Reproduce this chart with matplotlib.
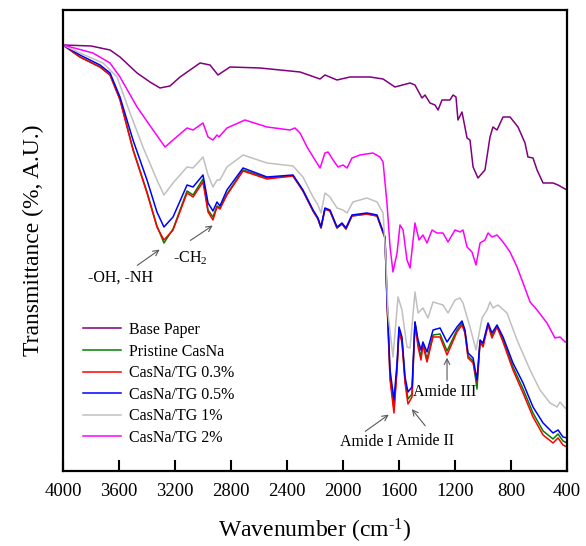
import numpy as np
import matplotlib
matplotlib.use("Agg")
import matplotlib.pyplot as plt

plt.rcParams['font.family'] = ['Liberation Serif', 'DejaVu Serif']
plt.rcParams['mathtext.fontset'] = 'custom'
plt.rcParams['mathtext.rm'] = 'Liberation Serif'
plt.rcParams['mathtext.it'] = 'Liberation Serif:italic'

# FTIR spectra, transmittance in arbitrary units (curves are offset)
wn_base = [4000, 3800, 3664, 3593, 3471, 3379, 3307, 3236, 3164, 3021, 2950, 2893,
           2807, 2593, 2307, 2164, 2129, 2043, 1950, 1807, 1714, 1629, 1521, 1486,
           1436, 1414, 1379, 1343, 1321, 1293, 1236, 1214, 1193, 1179, 1150, 1114,
           1093, 1071, 1036, 986, 950, 929, 900, 857, 807, 750, 700, 679, 643, 614,
           571, 500, 464, 414, 400]
t_base = [426, 425, 421, 414, 398, 389, 383, 385, 394, 408, 406, 396,
          404, 403, 399, 392, 396, 391, 394, 394, 392, 384, 388, 386,
          373, 376, 368, 366, 361, 371, 371, 376, 374, 351, 359, 333,
          331, 304, 293, 301, 334, 344, 341, 354, 354, 344, 328, 314, 313, 301,
          288, 288, 286, 282, 281]

# shared wavenumber grid for the caseinate-coated samples
wn_cas = [4000, 3879, 3736, 3664, 3593, 3500, 3400, 3329, 3279, 3214, 3114, 3071,
          3000, 2964, 2929, 2900, 2879, 2829, 2714, 2543, 2357, 2286, 2214, 2179,
          2157, 2129, 2093, 2043, 2007, 1979, 1936, 1829, 1757, 1700, 1686, 1664,
          1636, 1614, 1600, 1579, 1557, 1536, 1507, 1486, 1464, 1443, 1429, 1400,
          1357, 1307, 1257, 1186, 1150, 1129, 1107, 1071, 1043, 1021, 1000, 964,
          936, 900, 857, 786, 714, 643, 571, 500, 464, 429, 400]
t_pristine = [426, 414, 404, 396, 372, 322, 279, 245, 228, 242, 280, 276,
              292, 261, 254, 265, 263, 277, 301, 293, 295, 280, 260, 252,
              243, 262, 260, 243, 247, 242, 255, 257, 255, 233, 172, 95,
              62, 104, 142, 131, 91, 72, 77, 149, 127, 114, 128, 112,
              136, 137, 120, 141, 148, 139, 115, 110, 82, 130, 126, 147,
              135, 145, 131, 104, 82, 58, 40, 32, 37, 30, 28]
t_tg03 = [426, 414, 404, 396, 371, 321, 278, 244, 231, 241, 278, 274,
          289, 259, 251, 264, 262, 276, 300, 292, 295, 280, 260, 252,
          243, 262, 260, 243, 247, 242, 255, 257, 255, 233, 171, 91,
          58, 101, 139, 129, 88, 67, 74, 148, 124, 111, 126, 109,
          134, 134, 116, 139, 146, 138, 113, 108, 89, 129, 124, 146,
          133, 144, 129, 101, 78, 54, 36, 28, 33, 26, 24]
t_tg05 = [426, 416, 406, 398, 374, 331, 291, 259, 244, 254, 286, 284,
          296, 268, 260, 269, 265, 281, 303, 294, 296, 281, 261, 253,
          244, 263, 261, 244, 248, 243, 256, 258, 256, 234, 174, 101,
          71, 108, 144, 134, 94, 79, 84, 149, 131, 121, 129, 119,
          141, 143, 129, 144, 150, 141, 118, 113, 91, 131, 128, 148,
          138, 146, 134, 108, 88, 64, 48, 38, 41, 34, 33]

wn_tg1 = [4000, 3879, 3714, 3614, 3521, 3429, 3329, 3279, 3214, 3114, 3071, 3000,
          2964, 2929, 2900, 2879, 2829, 2714, 2543, 2357, 2286, 2214, 2179, 2157,
          2129, 2093, 2043, 2000, 1971, 1929, 1829, 1757, 1714, 1693, 1679, 1643,
          1607, 1579, 1543, 1521, 1486, 1464, 1429, 1393, 1357, 1286, 1250, 1200,
          1164, 1143, 1093, 1050, 1007, 971, 950, 929, 893, 829, 757, 664, 593,
          521, 471, 450, 414, 400]
t_tg1 = [426, 418, 408, 394, 358, 324, 291, 276, 288, 304, 303, 314,
         296, 284, 291, 291, 304, 316, 308, 305, 294, 274, 266, 258,
         278, 274, 263, 261, 258, 269, 273, 269, 258, 211, 158, 114,
         174, 161, 124, 123, 179, 158, 163, 153, 169, 166, 158, 171,
         173, 168, 144, 121, 153, 161, 169, 163, 166, 158, 131, 101, 81,
         68, 64, 69, 63, 62]

wn_tg2 = [4000, 3786, 3664, 3593, 3471, 3357, 3271, 3214, 3114, 3071, 3000, 2964,
          2929, 2900, 2886, 2829, 2700, 2543, 2379, 2343, 2307, 2257, 2200, 2164,
          2129, 2107, 2071, 2036, 2000, 1971, 1936, 1879, 1786, 1736, 1714, 1686,
          1664, 1643, 1614, 1593, 1571, 1543, 1521, 1486, 1457, 1429, 1400, 1364,
          1329, 1286, 1250, 1200, 1164, 1143, 1114, 1079, 1050, 1021, 986, 964,
          936, 900, 857, 807, 757, 714, 664, 614, 543, 486, 450, 414, 400]
t_tg2 = [426, 418, 408, 394, 364, 341, 324, 331, 343, 341, 348, 334,
         331, 336, 334, 343, 351, 344, 341, 343, 338, 324, 311, 303,
         318, 319, 311, 304, 306, 303, 313, 316, 318, 314, 309, 268,
         224, 199, 218, 246, 241, 211, 203, 248, 231, 236, 228, 241,
         238, 238, 229, 241, 239, 241, 224, 219, 206, 228, 231, 238,
         234, 236, 229, 219, 204, 188, 169, 161, 148, 133, 134, 129, 130]

series = [
    (wn_base, t_base, 'Base Paper', '#800080'),
    (wn_cas, t_pristine, 'Pristine CasNa', '#008000'),
    (wn_cas, t_tg03, 'CasNa/TG 0.3%', '#ff0000'),
    (wn_cas, t_tg05, 'CasNa/TG 0.5%', '#0000ff'),
    (wn_tg1, t_tg1, 'CasNa/TG 1%', '#c0c0c0'),
    (wn_tg2, t_tg2, 'CasNa/TG 2%', '#ff00ff'),
]

fig = plt.figure(figsize=(5.86, 5.46), dpi=100)
ax = fig.add_axes([0.1075, 0.1374, 0.8601, 0.8443])

for wn, t, label, color in series:
    ax.plot(wn, t, color=color, lw=1.1, label=label)

ax.set_xlim(4000, 400)
ax.set_ylim(0, 461)
ax.set_xticks(np.arange(4000, 399, -400))
ax.set_yticks([])
ax.tick_params(axis='x', direction='in', length=8, width=1.5, labelsize=13.5, pad=9)
for sp in ax.spines.values():
    sp.set_linewidth(1.6)

# hyphen (U+2010) keeps the superscript looking like "-1" rather than a math minus
ax.set_xlabel('Wavenumber (cm$^{\\mathregular{\u20101}}$)', fontsize=17, labelpad=12)
ax.set_ylabel('Transmittance (%, A.U.)', fontsize=17, labelpad=14)

# band assignments
arrow = dict(arrowstyle='->', color='0.35', lw=0.8)
ax.annotate('', xy=(3293, 223), xytext=(3486, 204), arrowprops=arrow)
ax.text(3586, 193, '-OH, -NH', fontsize=11.5, ha='center', va='center')
ax.annotate('', xy=(2914, 247), xytext=(3107, 229), arrowprops=arrow)
ax.text(3093, 213, '-CH$_2$', fontsize=11.5, ha='center', va='center')
ax.annotate('', xy=(1657, 58), xytext=(1857, 38), arrowprops=arrow)
ax.text(1836, 29, 'Amide I', fontsize=11.5, ha='center', va='center')
ax.annotate('', xy=(1521, 64), xytext=(1400, 43), arrowprops=arrow)
ax.text(1414, 30, 'Amide II', fontsize=11.5, ha='center', va='center')
ax.annotate('', xy=(1257, 116), xytext=(1257, 88), arrowprops=arrow)
ax.text(1271, 79, 'Amide III', fontsize=11.5, ha='center', va='center')

ax.legend(loc='upper left', bbox_to_anchor=(0.0397, 0.323), frameon=False,
          fontsize=11.5, handlelength=2.4, handletextpad=0.5, labelspacing=0.35,
          borderpad=0, borderaxespad=0)

fig.savefig('out.png', dpi=100)
